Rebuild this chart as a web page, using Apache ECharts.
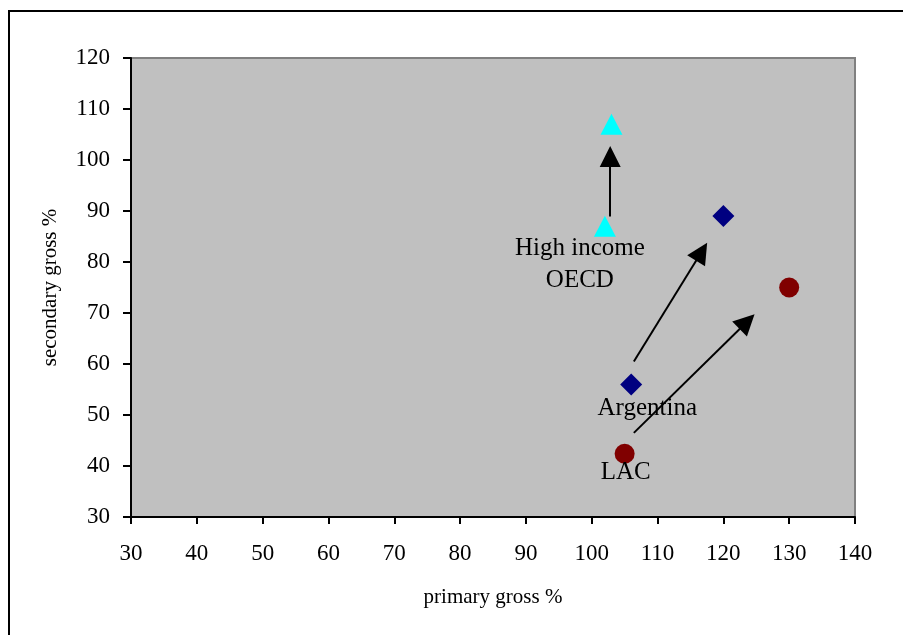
<!DOCTYPE html>
<html>
<head>
<meta charset="utf-8">
<script src="https://cdn.jsdelivr.net/npm/echarts@6/dist/echarts.min.js"></script>
<style>
  html, body { margin: 0; padding: 0; background: #fff; }
  #chart { width: 908px; height: 635px; }
</style>
</head>
<body>
<div id="chart"></div>
<script>
// Gross enrolment ratios: primary (x) vs secondary (y), two observations per group
const groupNames = ['High income\nOECD', 'Argentina', 'LAC'];

const oecdPrimary = [102, 103];
const oecdSecondary = [87, 107];

const argPrimary = [106, 120];
const argSecondary = [56, 89];

const lacPrimary = [105, 130];
const lacSecondary = [42.4, 75];

// Arrows showing the change for each group: [start, end] in axis units
const oecdArrow = [[102.8, 88.9], [102.8, 100.7]];
const argArrow = [[106.4, 60.5], [116.7, 82.0]];
const lacArrow = [[106.4, 46.5], [123.6, 68.3]];

const axisMin = { x: 30, y: 30 };
const axisMax = { x: 140, y: 120 };
const tickStep = 10;

const FONT = 'Liberation Serif';

function pairs(xs, ys) {
  return xs.map((x, i) => [x, ys[i]]);
}

function arrowLine(arrow) {
  return {
    silent: true,
    animation: false,
    symbol: ['none', 'triangle'],
    symbolSize: 21,
    label: { show: false },
    emphasis: { disabled: true },
    lineStyle: { color: '#000', width: 2, type: 'solid' },
    itemStyle: { color: '#000' },
    data: [[{ coord: arrow[0] }, { coord: arrow[1] }]]
  };
}

function groupSeries(name, xs, ys, symbol, size, color, labelOffset, arrow) {
  const data = pairs(xs, ys).map((p, i) => {
    const item = { value: p };
    if (i === 0) {
      item.label = {
        show: true,
        formatter: name,
        position: 'inside',
        offset: labelOffset,
        align: 'center',
        verticalAlign: 'middle',
        fontFamily: FONT,
        fontSize: 25,
        lineHeight: 32,
        color: '#000'
      };
    }
    return item;
  });
  return {
    type: 'scatter',
    name: name,
    symbol: symbol,
    symbolSize: size,
    itemStyle: { color: color, opacity: 1 },
    label: { show: false },
    emphasis: { disabled: true },
    data: data,
    markLine: arrowLine(arrow),
    z: 3
  };
}

const chart = echarts.init(document.getElementById('chart'), null, { renderer: 'canvas' });

chart.setOption({
  animation: false,
  backgroundColor: '#fff',
  grid: {
    left: 131, right: 53, top: 58, bottom: 118,
    show: true,
    backgroundColor: '#C0C0C0',
    borderColor: '#808080',
    borderWidth: 2
  },
  xAxis: {
    type: 'value',
    min: axisMin.x, max: axisMax.x, interval: tickStep,
    name: 'primary gross %',
    nameLocation: 'middle',
    nameGap: 70,
    nameTextStyle: { fontFamily: FONT, fontSize: 21, color: '#000' },
    axisLine: { show: true, onZero: false, lineStyle: { color: '#000', width: 2 } },
    axisTick: { show: true, length: 7, lineStyle: { color: '#000', width: 2 } },
    axisLabel: { fontFamily: FONT, fontSize: 23, color: '#000', margin: 25 },
    splitLine: { show: false }
  },
  yAxis: {
    type: 'value',
    min: axisMin.y, max: axisMax.y, interval: tickStep,
    name: 'secondary gross %',
    nameLocation: 'middle',
    nameGap: 70,
    nameRotate: 90,
    nameTextStyle: { fontFamily: FONT, fontSize: 21, color: '#000' },
    axisLine: { show: true, onZero: false, lineStyle: { color: '#000', width: 2 } },
    axisTick: { show: true, length: 8, lineStyle: { color: '#000', width: 2 } },
    axisLabel: { fontFamily: FONT, fontSize: 23, color: '#000', margin: 21 },
    splitLine: { show: false }
  },
  graphic: [
    { type: 'line', shape: { x1: 8, y1: 11, x2: 903, y2: 11 }, style: { stroke: '#000', lineWidth: 2 }, silent: true },
    { type: 'line', shape: { x1: 9, y1: 10, x2: 9, y2: 635 }, style: { stroke: '#000', lineWidth: 2 }, silent: true }
  ],
  series: [
    groupSeries(groupNames[0], oecdPrimary, oecdSecondary, 'triangle', [22, 21], '#00FFFF', [-25, 38], oecdArrow),
    groupSeries(groupNames[1], argPrimary, argSecondary, 'diamond', 22, '#000080', [16, 24], argArrow),
    groupSeries(groupNames[2], lacPrimary, lacSecondary, 'circle', 20, '#800000', [1, 19], lacArrow)
  ]
});
</script>
</body>
</html>
